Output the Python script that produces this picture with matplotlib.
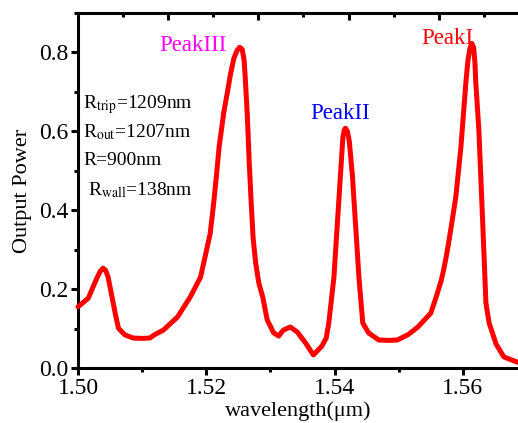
import matplotlib.pyplot as plt
from matplotlib.ticker import MultipleLocator, FixedLocator, NullFormatter

plt.rcParams['font.family'] = ['Liberation Serif', 'DejaVu Serif']
plt.rcParams['mathtext.fontset'] = 'stix'

# output spectrum (wavelength in um, normalised power)
wavelength = [1.5000, 1.5016, 1.5030, 1.5035, 1.5039, 1.5043, 1.5047, 1.5058, 1.5063,
              1.5073, 1.5086, 1.5100, 1.5112, 1.5119, 1.5133, 1.5155, 1.5175, 1.5183,
              1.5191, 1.5198, 1.5206, 1.5211, 1.5216, 1.5220, 1.5227, 1.5233, 1.5238,
              1.5243, 1.5248, 1.5252, 1.5256, 1.5259, 1.5261, 1.5264, 1.5267, 1.5270,
              1.5273, 1.5277, 1.5282, 1.5288, 1.5295, 1.5305, 1.5313, 1.5320, 1.5331,
              1.5342, 1.5355, 1.5367, 1.5380, 1.5387, 1.5391, 1.5399, 1.5409, 1.5413,
              1.5415, 1.5417, 1.5420, 1.5423, 1.5428, 1.5438, 1.5444, 1.5453, 1.5469,
              1.5485, 1.5498, 1.5515, 1.5530, 1.5550, 1.5558, 1.5566, 1.5570, 1.5575,
              1.5581, 1.5589, 1.5597, 1.5605, 1.5608, 1.5611, 1.5614, 1.5617, 1.5619,
              1.5620, 1.5625, 1.5631, 1.5636, 1.5641, 1.5652, 1.5664, 1.5688]
power = [0.155, 0.177, 0.230, 0.246, 0.253, 0.248, 0.230, 0.139, 0.101,
         0.084, 0.076, 0.075, 0.076, 0.084, 0.096, 0.129, 0.180, 0.205,
         0.230, 0.281, 0.340, 0.410, 0.490, 0.560, 0.645, 0.700, 0.747,
         0.785, 0.805, 0.813, 0.808, 0.780, 0.729, 0.640, 0.520, 0.420,
         0.330, 0.266, 0.215, 0.180, 0.122, 0.089, 0.081, 0.096, 0.104,
         0.091, 0.063, 0.033, 0.055, 0.076, 0.114, 0.230, 0.484, 0.585,
         0.603, 0.608, 0.600, 0.575, 0.484, 0.230, 0.114, 0.089, 0.071,
         0.070, 0.071, 0.085, 0.104, 0.139, 0.178, 0.220, 0.248, 0.290,
         0.349, 0.433, 0.560, 0.729, 0.780, 0.810, 0.823, 0.812, 0.770,
         0.729, 0.603, 0.367, 0.165, 0.114, 0.060, 0.028, 0.013]

peak_labels = ['PeakIII', 'PeakII', 'PeakI']
peak_pos = [(1.5180, 0.818), (1.5409, 0.645), (1.5576, 0.836)]
peak_colors = ['#ff00ff', '#0000ff', '#ff0000']

params = [r'R$_{\rm trip}$=1209nm', r'R$_{\rm out}$=1207nm', 'R=900nm', r'R$_{\rm wall}$=138nm']

fig = plt.figure(figsize=(5.18, 4.23), dpi=100)
ax = fig.add_axes([78 / 518, 1 - 368 / 423, 1 - 78 / 518, 355 / 423])

ax.plot(wavelength, power, color='#ff0000', lw=3.6, solid_joinstyle='round',
        solid_capstyle='round', clip_on=False, zorder=3)

ax.set_xlim(1.50, 1.5686)
ax.set_ylim(0.0, 0.9)
ax.xaxis.set_major_locator(MultipleLocator(0.02))
ax.xaxis.set_minor_locator(MultipleLocator(0.01))
ax.yaxis.set_major_locator(MultipleLocator(0.2))
ax.yaxis.set_minor_locator(MultipleLocator(0.1))
ax.xaxis.set_major_formatter(plt.FormatStrFormatter('%.2f'))
ax.yaxis.set_major_formatter(plt.FormatStrFormatter('%.1f'))

for side in ['left', 'bottom', 'top']:
    ax.spines[side].set_linewidth(2.2)
ax.spines['right'].set_visible(False)

ax.tick_params(axis='both', which='major', direction='out', length=5, width=2.2,
               labelsize=17, pad=2)
ax.tick_params(axis='both', which='minor', direction='out', length=3, width=2.2)
ax.tick_params(top=False, right=False, which='both')

# top axis ticks (unlabelled)
top = ax.twiny()
top.set_xlim(ax.get_xlim())
step = 0.0140625
top.xaxis.set_major_locator(FixedLocator([1.51406 + i * step for i in range(4)]))
top.xaxis.set_minor_locator(FixedLocator([1.50703 + i * step for i in range(5)]))
top.xaxis.set_major_formatter(NullFormatter())
top.tick_params(axis='x', which='major', direction='in', length=5, width=2.2)
top.tick_params(axis='x', which='minor', direction='in', length=3, width=2.2)
for side in top.spines:
    top.spines[side].set_visible(False)

ax.set_xlabel('wavelength(μm)', fontsize=16, labelpad=2)
ax.set_ylabel('Output Power', fontsize=16, labelpad=5)

for lab, (x, y), c in zip(peak_labels, peak_pos, peak_colors):
    ax.text(x, y, lab, color=c, fontsize=16.5, ha='center', va='center')

ys = [0.667, 0.598, 0.525, 0.452]
xs = [1.5008, 1.5008, 1.5008, 1.5015]
for s, x, y in zip(params, xs, ys):
    ax.text(x, y, s, fontsize=14, ha='left', va='center')

fig.savefig('out.png', dpi=100)
